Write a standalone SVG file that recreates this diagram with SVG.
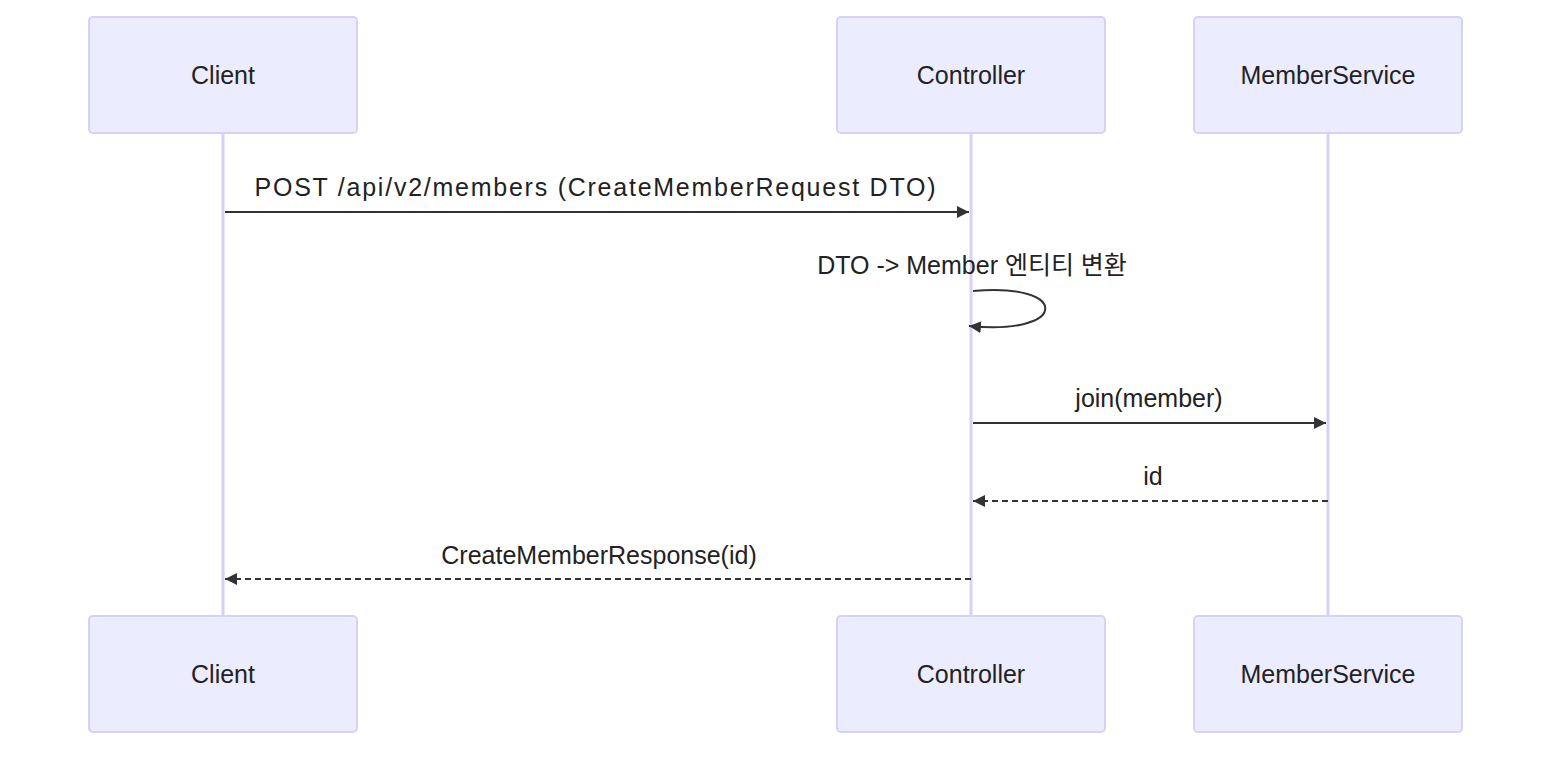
<svg xmlns="http://www.w3.org/2000/svg" width="1568" height="760" viewBox="0 0 1568 760">
<style>
.actor{fill:#ECECFF;stroke:#d9d0f5;stroke-width:2}
.life{stroke:#d9d0f5;stroke-width:3}
.t{font-family:"Liberation Sans","Noto Sans CJK KR",sans-serif;font-size:25px;fill:#222;text-anchor:middle}
.msg{stroke:#333;stroke-width:2;fill:none}
.dash{stroke-dasharray:6,4}
</style>
<defs>
<marker id="ah" viewBox="0 0 12 12" refX="12" refY="6" markerWidth="12" markerHeight="12" markerUnits="userSpaceOnUse" orient="auto"><path d="M0,0 L12,6 L0,12 z" fill="#333"/></marker>
</defs>
<g id="lifelines">
<line class="life" x1="223" y1="133" x2="223" y2="616"/>
<line class="life" x1="971" y1="133" x2="971" y2="616"/>
<line class="life" x1="1328" y1="133" x2="1328" y2="616"/>
</g>
<g id="client-top"><rect class="actor" x="89" y="17" width="268" height="116" rx="4"/><text class="t" x="223" y="84">Client</text></g>
<g id="controller-top"><rect class="actor" x="837" y="17" width="268" height="116" rx="4"/><text class="t" x="971" y="84">Controller</text></g>
<g id="service-top"><rect class="actor" x="1194" y="17" width="268" height="116" rx="4"/><text class="t" x="1328" y="84">MemberService</text></g>
<g id="client-bottom"><rect class="actor" x="89" y="616" width="268" height="116" rx="4"/><text class="t" x="223" y="683">Client</text></g>
<g id="controller-bottom"><rect class="actor" x="837" y="616" width="268" height="116" rx="4"/><text class="t" x="971" y="683">Controller</text></g>
<g id="service-bottom"><rect class="actor" x="1194" y="616" width="268" height="116" rx="4"/><text class="t" x="1328" y="683">MemberService</text></g>
<g id="connectors">
<line class="msg" x1="225" y1="212" x2="969" y2="212" marker-end="url(#ah)"/>
<text class="t" x="595" y="196" textLength="681">POST /api/v2/members (CreateMemberRequest DTO)</text>
<path class="msg" d="M973,291 C1070,282 1070,336 969,326" marker-end="url(#ah)"/>
<text class="t" x="972" y="274">DTO -&gt; Member 엔티티 변환</text>
<line class="msg" x1="973" y1="423" x2="1326" y2="423" marker-end="url(#ah)"/>
<text class="t" x="1149" y="407">join(member)</text>
<line class="msg dash" x1="1328" y1="501" x2="973" y2="501" marker-end="url(#ah)"/>
<text class="t" x="1153" y="485">id</text>
<line class="msg dash" x1="971" y1="579" x2="225" y2="579" marker-end="url(#ah)"/>
<text class="t" x="599" y="564">CreateMemberResponse(id)</text>
</g>
</svg>
